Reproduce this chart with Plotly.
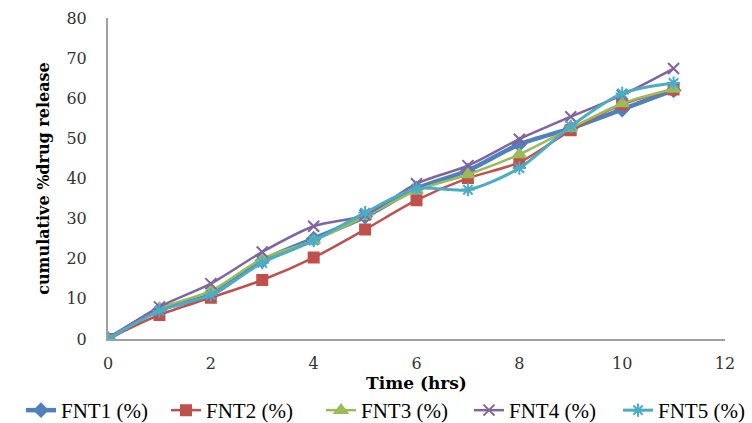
import plotly.graph_objects as go

time_hrs = [0, 1, 2, 3, 4, 5, 6, 7, 8, 9, 10, 11]
fnt1 = [0, 7.3, 11.0, 19.5, 25.0, 30.5, 37.5, 42.0, 48.5, 52.5, 57.2, 62.0]
fnt2 = [0, 6.0, 10.3, 14.7, 20.3, 27.3, 34.6, 40.1, 44.0, 52.0, 58.5, 62.2]
fnt3 = [0, 7.6, 12.0, 20.0, 24.5, 30.6, 37.0, 41.0, 46.0, 52.5, 58.7, 62.3]
fnt4 = [0, 8.0, 13.8, 21.7, 28.1, 30.9, 38.7, 43.2, 49.8, 55.4, 60.8, 67.4]
fnt5 = [0, 7.0, 11.0, 19.0, 24.5, 31.5, 37.5, 37.2, 42.6, 53.0, 61.2, 63.8]

series = [
    ("FNT1 (%)", fnt1, "#4F81BD", "diamond", 10, 4.5),
    ("FNT2 (%)", fnt2, "#C0504D", "square", 10, 2.5),
    ("FNT3 (%)", fnt3, "#9BBB59", "triangle-up", 11, 2.5),
    ("FNT4 (%)", fnt4, "#8064A2", "x-thin-open", 11, 2.5),
    ("FNT5 (%)", fnt5, "#4BACC6", "asterisk-open", 11, 3),
]
legend_ids = ["legend", "legend2", "legend3", "legend4", "legend5"]
legend_left_px = [21, 166, 321, 469, 618]

W, H = 752, 423
ML, MR, MT, MB = 108, 27, 18, 84
PW, PH = W - ML - MR, H - MT - MB

fig = go.Figure()
for (name, vals, color, sym, size, width), lid in zip(series, legend_ids):
    fig.add_trace(go.Scatter(
        x=time_hrs, y=vals, name=name, mode="lines+markers", legend=lid,
        line=dict(color=color, width=width, shape="spline", smoothing=0.8),
        marker=dict(symbol=sym, size=size, color=color,
                    line=dict(color=color, width=2)),
    ))

legend_font = dict(family="Liberation Serif", size=21, color="black")
legends = {}
for lid, px in zip(legend_ids, legend_left_px):
    legends[lid] = dict(
        orientation="h", x=(px - ML) / PW, xanchor="left",
        y=-(431 - (H - MB)) / PH, yanchor="bottom",
        font=legend_font, entrywidth=106, entrywidthmode="pixels",
        bgcolor="rgba(0,0,0,0)", borderwidth=0,
    )

tickfont = dict(family="DejaVu Serif", size=16, color="#333333")

fig.update_layout(
    width=W, height=H,
    margin=dict(l=ML, r=MR, t=MT, b=MB, autoexpand=False),
    plot_bgcolor="white", paper_bgcolor="white",
    showlegend=True,
    xaxis=dict(range=[0, 12], dtick=2, showgrid=False, zeroline=False, automargin=False,
               showline=True, linecolor="#A0A0A0", linewidth=2,
               ticks="", tickfont=tickfont, ticklabelstandoff=9,
               title=dict(text="Time (hrs)", standoff=3,
                          font=dict(family="DejaVu Serif", size=17, color="black", weight="bold"))),
    yaxis=dict(range=[0, 80], dtick=10, showgrid=False, zeroline=False, automargin=False,
               showline=True, linecolor="#A0A0A0", linewidth=2,
               ticks="", tickfont=tickfont, ticklabelstandoff=16,
               title=dict(text="cumulative %drug release", standoff=13,
                          font=dict(family="DejaVu Serif", size=16, color="black", weight="bold"))),
    **legends,
)

fig.write_html("out.html", config={"displayModeBar": False},
               post_script="document.body.style.margin='0';document.body.style.overflow='hidden';")
